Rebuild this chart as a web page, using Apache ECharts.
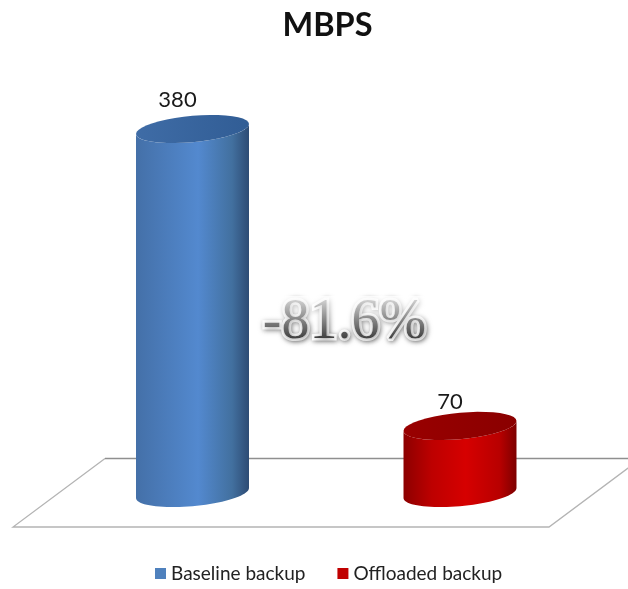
<!DOCTYPE html>
<html>
<head>
<meta charset="utf-8">
<style>
html,body{margin:0;padding:0;background:#fff;}
#chart{width:628px;height:589px;}
</style>
<script src="https://cdn.jsdelivr.net/npm/echarts@6/dist/echarts.min.js"></script>
</head>
<body>
<div id="chart"></div>
<script>
// chart values
var categories = ['Baseline backup', 'Offloaded backup'];
var baselineValues = [[0, 380]];
var offloadedValues = [[1, 70]];
var chartTitle = 'MBPS';
var changeLabel = '-81.6%';

var textFont = 'Lato';

// points of a slanted ellipse arc, from angle a0 to a1
function arcPoints(cx, cy, rx, ry, tilt, a0, a1) {
    var pts = [];
    var steps = 40;
    for (var i = 0; i <= steps; i++) {
        var t = a0 + (a1 - a0) * i / steps;
        pts.push([cx + rx * Math.cos(t), cy + ry * Math.sin(t) - tilt * Math.cos(t)]);
    }
    return pts;
}

function sideGradient(stops) {
    return new echarts.graphic.LinearGradient(0, 0, 1, 0, stops);
}

// one cylinder, drawn from the axis coordinates
function cylinder(sideStops, topStops, labelDx, labelDy) {
    return function (params, api) {
        var cat = api.value(0);
        var val = api.value(1);
        var top = api.coord([cat, val]);
        var base = api.coord([cat, 0]);
        var rx = api.size([1, 0])[0] * 0.2112;
        var ry = 13.2;
        var tilt = 5;
        // front half of the bottom rim + back along the top rim
        var body = arcPoints(base[0], base[1], rx, ry, tilt, 0, Math.PI)
            .concat(arcPoints(top[0], top[1], rx, ry, tilt, Math.PI, 0));
        var cap = arcPoints(top[0], top[1], rx, ry, tilt, 0, Math.PI * 2);
        return {
            type: 'group',
            children: [
                {
                    type: 'polygon',
                    shape: {points: body},
                    style: {fill: sideGradient(sideStops)}
                },
                {
                    type: 'polygon',
                    shape: {points: cap},
                    style: {fill: new echarts.graphic.LinearGradient(0, 0, 1, 0, topStops)}
                },
                {
                    type: 'text',
                    x: top[0] + labelDx,
                    y: top[1] + labelDy,
                    style: {
                        text: String(val),
                        fill: '#1a1a1a',
                        font: '22px ' + textFont,
                        align: 'center',
                        verticalAlign: 'middle'
                    }
                }
            ]
        };
    };
}

var myChart = echarts.init(document.getElementById('chart'), null, {renderer: 'canvas'});

var option = {
    backgroundColor: '#fff',
    animation: false,
    title: {
        text: chartTitle,
        left: 322.5,
        top: 4,
        textAlign: 'center',
        textStyle: {fontFamily: textFont, fontSize: 32.5, fontWeight: 'bold', color: '#111'}
    },
    legend: {
        data: categories,
        left: 150,
        top: 559,
        icon: 'rect',
        itemWidth: 11,
        itemHeight: 11,
        itemGap: 32,
        textStyle: {fontFamily: textFont, fontSize: 19, color: '#222'}
    },
    grid: {left: 58.75, right: 34.25, top: 129, bottom: 96},
    xAxis: {type: 'category', data: categories, show: false},
    yAxis: {type: 'value', min: 0, max: 380, show: false},
    graphic: [
        // floor
        {
            type: 'polyline',
            z: 0,
            silent: true,
            shape: {points: [[105, 458.5], [13, 527], [549, 527], [641, 458.5]]},
            style: {fill: null, stroke: '#b4b4b4', lineWidth: 1.3}
        },
        {
            type: 'line',
            z: 0,
            silent: true,
            shape: {x1: 105, y1: 458.5, x2: 628, y2: 458.5},
            style: {stroke: '#8f8f8f', lineWidth: 1.3}
        },
        // halo behind the change label
        {
            type: 'text',
            z: 20,
            silent: true,
            x: 344.5,
            y: 323,
            style: {
                text: changeLabel,
                font: '56px "Liberation Serif"',
                align: 'center',
                verticalAlign: 'middle',
                fill: '#fff',
                stroke: '#fff',
                lineWidth: 5,
                textShadowBlur: 5,
                textShadowColor: 'rgba(0,0,0,0.55)',
                textShadowOffsetX: 1,
                textShadowOffsetY: 1
            }
        },
        {
            type: 'text',
            z: 21,
            silent: true,
            x: 344.5,
            y: 323,
            style: {
                text: changeLabel,
                font: '56px "Liberation Serif"',
                align: 'center',
                verticalAlign: 'middle',
                fill: '#2a2a2a'
            }
        },
        // white veil, lightens the top of the digits
        {
            type: 'rect',
            z: 22,
            silent: true,
            shape: {x: 256, y: 296, width: 180, height: 50},
            style: {
                fill: new echarts.graphic.LinearGradient(0, 0, 0, 1, [
                    {offset: 0, color: 'rgba(255,255,255,0.85)'},
                    {offset: 0.85, color: 'rgba(255,255,255,0.1)'}
                ])
            }
        }
    ],
    series: [
        {
            name: categories[0],
            type: 'custom',
            z: 5,
            itemStyle: {color: '#4f81bd'},
            renderItem: cylinder(
                [
                    {offset: 0, color: '#4470a8'},
                    {offset: 0.55, color: '#5389cf'},
                    {offset: 0.85, color: '#42709f'},
                    {offset: 1, color: '#2d4b74'}
                ],
                [
                    {offset: 0, color: '#3f6ca6'},
                    {offset: 1, color: '#315d95'}
                ],
                -15, -29
            ),
            encode: {x: 0, y: 1},
            data: baselineValues
        },
        {
            name: categories[1],
            type: 'custom',
            z: 5,
            itemStyle: {color: '#c00000'},
            renderItem: cylinder(
                [
                    {offset: 0, color: '#8c0000'},
                    {offset: 0.25, color: '#bd0000'},
                    {offset: 0.55, color: '#d60000'},
                    {offset: 0.85, color: '#b80000'},
                    {offset: 1, color: '#7d0000'}
                ],
                [
                    {offset: 0, color: '#990000'},
                    {offset: 1, color: '#8a0000'}
                ],
                -10, -24
            ),
            encode: {x: 0, y: 1},
            data: offloadedValues
        }
    ]
};

myChart.setOption(option);
</script>
</body>
</html>
